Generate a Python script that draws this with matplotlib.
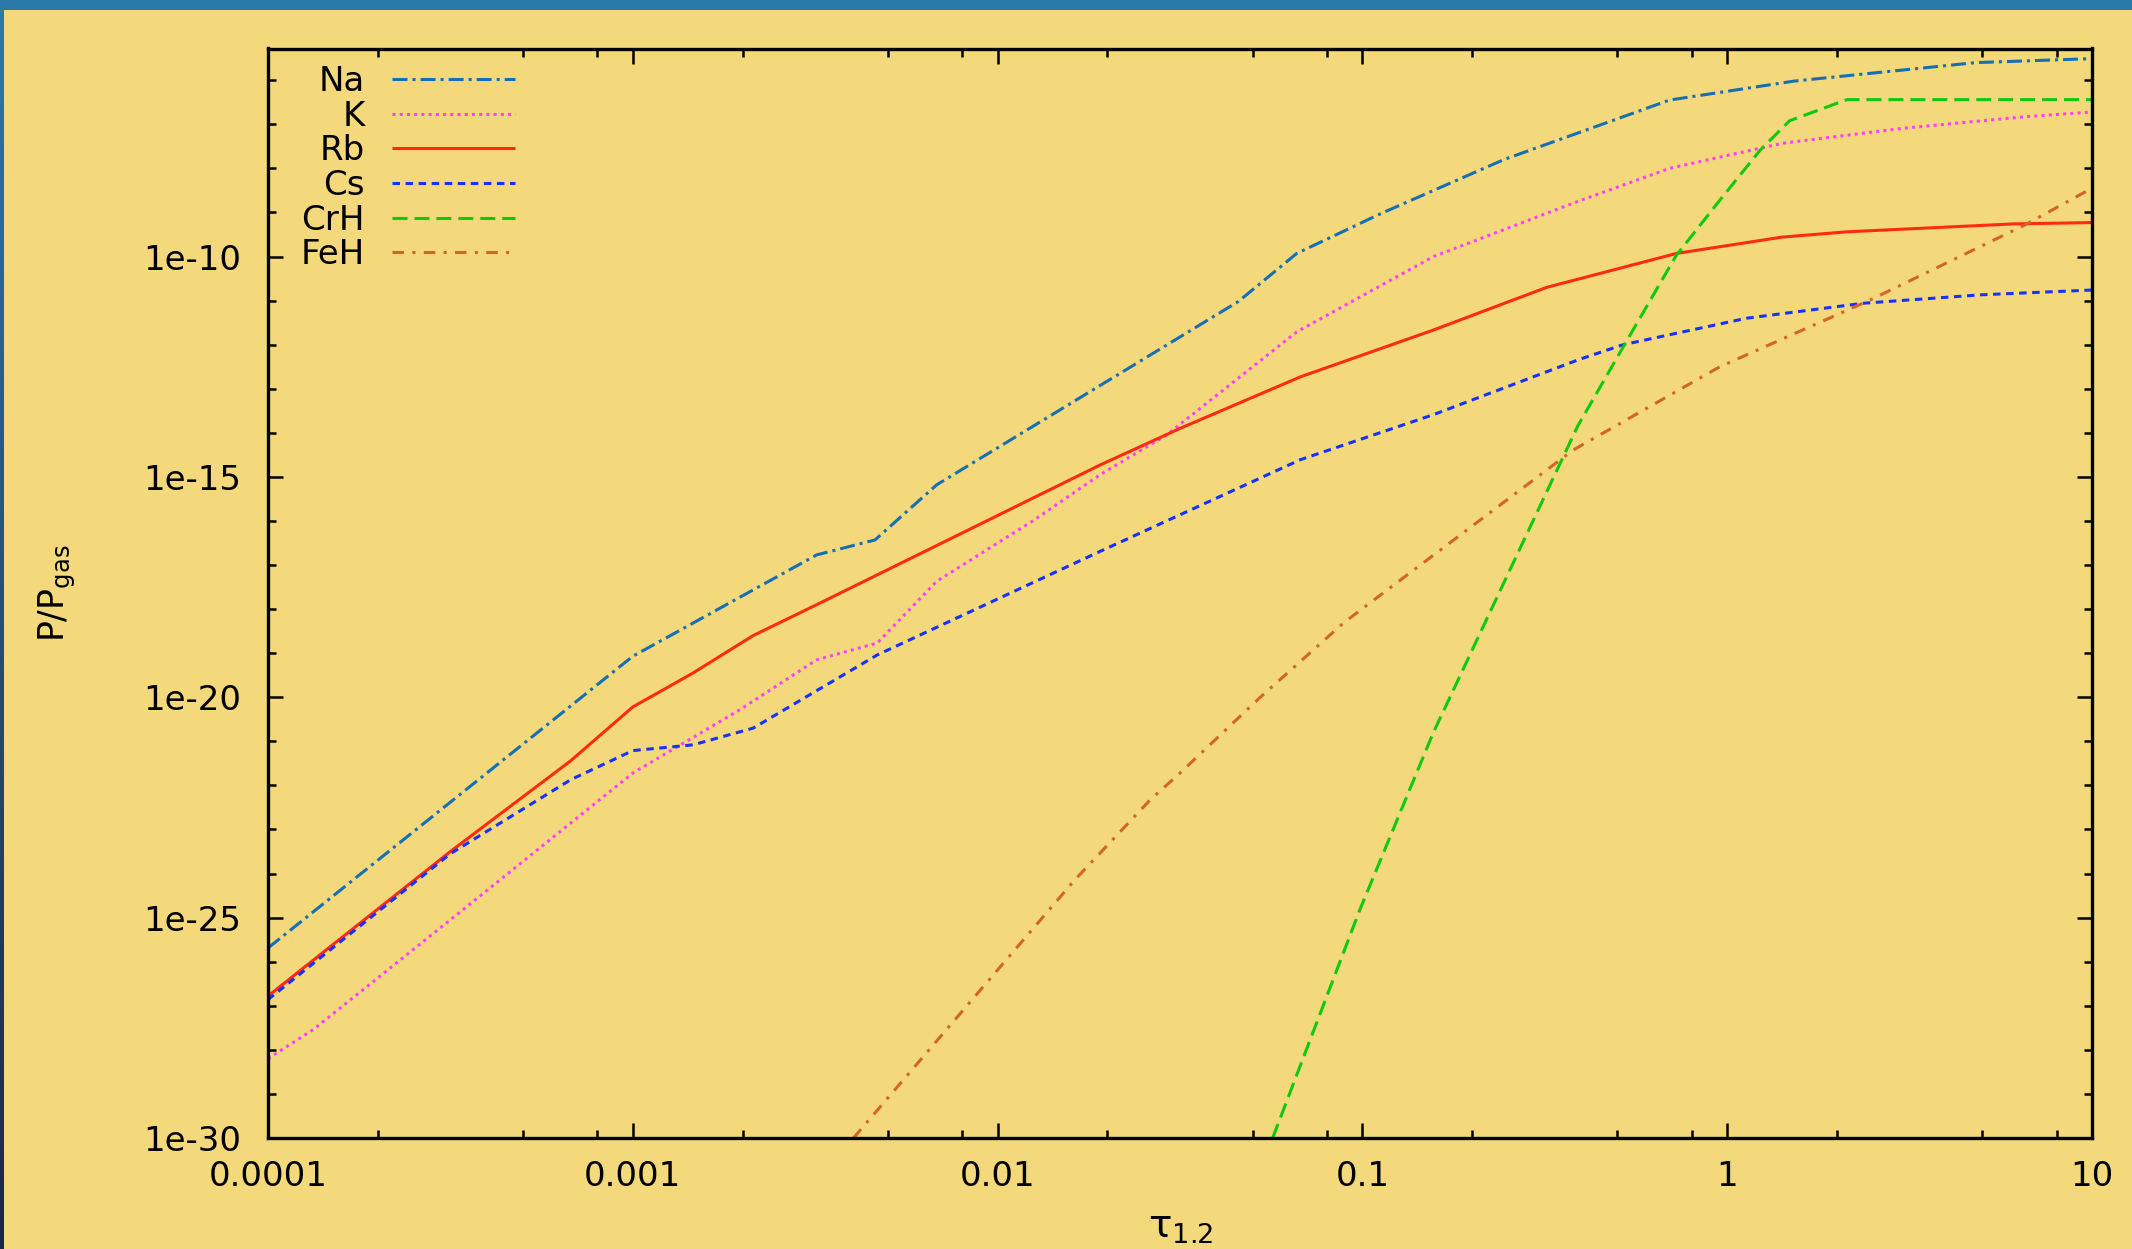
import numpy as np
import matplotlib
matplotlib.use("Agg")
import matplotlib.pyplot as plt
from matplotlib.ticker import FixedLocator, FixedFormatter, LogLocator, NullFormatter
from matplotlib.patches import Rectangle
from matplotlib.colors import LinearSegmentedColormap

plt.rcParams['font.family'] = ['DejaVu Sans']
plt.rcParams['mathtext.fontset'] = 'dejavusans'
plt.rcParams['lines.scale_dashes'] = False

# Partial pressures relative to gas pressure, log10 values vs log10(tau_1.2)
log_tau_na = [-4.0, -3.0, -2.496, -2.336, -2.167, -1.34, -1.18, -0.948, -0.612, -0.158, 0.183, 0.681, 1.0]
log_p_na = [-25.69, -19.07, -16.77, -16.43, -15.18, -11.02, -9.93, -9.02, -7.80, -6.45, -6.02, -5.60, -5.51]

log_tau_k = [-4.0, -3.876, -3.5, -3.0, -2.706, -2.496, -2.33, -2.167, -1.9, -1.719, -1.537, -1.18,
             -0.805, -0.413, -0.158, 0.151, 0.482, 0.814, 1.0]
log_p_k = [-28.2, -27.54, -25.05, -21.72, -20.28, -19.15, -18.77, -17.37, -15.98, -14.95, -14.05, -11.71,
           -10.0, -8.76, -8.0, -7.43, -7.09, -6.83, -6.72]

log_tau_rb = [-4.0, -3.5, -3.17, -3.0, -2.835, -2.67, -2.496, -1.719, -1.5, -1.17, -0.806, -0.495,
              -0.139, 0.15, 0.327, 0.784, 1.0]
log_p_rb = [-26.78, -23.5, -21.44, -20.22, -19.45, -18.6, -17.9, -14.73, -13.9, -12.73, -11.67, -10.7,
            -9.93, -9.56, -9.44, -9.26, -9.23]

log_tau_cs = [-4.0, -3.5, -3.17, -3.0, -2.835, -2.67, -2.33, -1.719, -1.5, -1.17, -0.806, -0.404,
              -0.285, 0.053, 0.373, 0.693, 1.0]
log_p_cs = [-26.86, -23.55, -21.87, -21.21, -21.08, -20.7, -19.04, -16.69, -15.86, -14.61, -13.59, -12.33,
            -12.0, -11.4, -11.06, -10.87, -10.76]

log_tau_crh = [-1.246, -1.007, -0.806, -0.66, -0.41, -0.285, -0.14, -0.02, 0.09, 0.171, 0.328, 1.0]
log_p_crh = [-30.0, -24.82, -20.81, -18.24, -13.85, -12.05, -9.98, -8.72, -7.59, -6.92, -6.44, -6.44]

log_tau_feh = [-2.395, -1.788, -1.582, -1.5, -1.28, -1.05, -0.422, -0.02, 0.391, 0.812, 1.0]
log_p_feh = [-30.0, -24.14, -22.33, -21.72, -20.0, -18.3, -14.39, -12.5, -10.99, -9.3, -8.45]

species = ["Na", "K", "Rb", "Cs", "CrH", "FeH"]

x_ticks = [1e-4, 1e-3, 1e-2, 1e-1, 1, 10]
x_tick_labels = ["0.0001", "0.001", "0.01", "0.1", "1", "10"]
y_ticks = [1e-30, 1e-25, 1e-20, 1e-15, 1e-10]
y_tick_labels = ["1e-30", "1e-25", "1e-20", "1e-15", "1e-10"]

# line styles (dash patterns in points)
styles = {
    "Na":  dict(color="#156fb2", dashes=(10.8, 3.6, 2.2, 3.6)),
    "K":   dict(color="#ff40ff", dashes=(2.2, 3.0)),
    "Rb":  dict(color="#ff2a12", linestyle="-"),
    "Cs":  dict(color="#1632ff", dashes=(5.4, 4.0)),
    "CrH": dict(color="#0fc90f", dashes=(10.8, 5.0)),
    "FeH": dict(color="#d2652b", dashes=(8.3, 6.0, 2.2, 6.0)),
}

series = {
    "Na": (log_tau_na, log_p_na),
    "K": (log_tau_k, log_p_k),
    "Rb": (log_tau_rb, log_p_rb),
    "Cs": (log_tau_cs, log_p_cs),
    "CrH": (log_tau_crh, log_p_crh),
    "FeH": (log_tau_feh, log_p_feh),
}

bg = "#f4d97c"
W, H = 2132, 1249
fig = plt.figure(figsize=(W / 100, H / 100), dpi=100, facecolor=bg)

# frame decorations: blue band on top, dark strip on the left edge
fig.add_artist(Rectangle((0, 1 - 10 / H), 1, 10 / H, transform=fig.transFigure,
                         facecolor="#2a78a8", edgecolor="none", zorder=10))
strip = fig.add_axes([0, 0, 4 / W, 1 - 10 / H])
strip.imshow(np.linspace(0, 1, 256)[:, None], aspect="auto",
             cmap=LinearSegmentedColormap.from_list("edge", ["#2c78a8", "#1c2644"]))
strip.axis("off")

ax = fig.add_axes([268 / W, 1 - 1138 / H, (2092 - 268) / W, (1138 - 48.5) / H])
ax.set_facecolor("none")

for name in species:
    lt, lp = series[name]
    ax.plot(10.0 ** np.asarray(lt), 10.0 ** np.asarray(lp), label=name,
            linewidth=2.2, solid_capstyle="butt", dash_capstyle="butt", **styles[name])

ax.set_xscale("log")
ax.set_yscale("log")
ax.set_xlim(1e-4, 10)
ax.set_ylim(1e-30, 10 ** -5.28)

ax.xaxis.set_major_locator(FixedLocator(x_ticks))
ax.xaxis.set_major_formatter(FixedFormatter(x_tick_labels))
ax.xaxis.set_minor_locator(LogLocator(base=10, subs=(2, 5, 8), numticks=20))
ax.xaxis.set_minor_formatter(NullFormatter())
ax.yaxis.set_major_locator(FixedLocator(y_ticks))
ax.yaxis.set_major_formatter(FixedFormatter(y_tick_labels))
ax.yaxis.set_minor_locator(FixedLocator([10.0 ** k for k in range(-29, -5) if k % 5 != 0]))
ax.yaxis.set_minor_formatter(NullFormatter())

for s in ax.spines.values():
    s.set_linewidth(2.4)
ax.tick_params(which="both", direction="in", top=True, right=True, width=1.8, labelsize=24.5)
ax.tick_params(which="major", length=11)
ax.tick_params(which="minor", length=5.5)
ax.tick_params(axis="x", which="major", pad=16)
ax.tick_params(axis="y", which="major", pad=19)

ax.set_xlabel("τ$_{\\mathrm{1.2}}$", fontsize=28)
ax.xaxis.set_label_coords(0.5, -0.064)
ax.xaxis.label.set_va("top")
ax.set_ylabel("P/P$_{\\mathrm{gas}}$", fontsize=25)
ax.yaxis.set_label_coords(-0.104, 0.5)

ax.legend(loc="upper left", bbox_to_anchor=(0.018, 0.985), markerfirst=False, frameon=False,
          handlelength=3.6, handletextpad=0.8, labelspacing=0.05, borderaxespad=0,
          borderpad=0, fontsize=24.5)

fig.savefig("out.png", dpi=100, facecolor=fig.get_facecolor())
